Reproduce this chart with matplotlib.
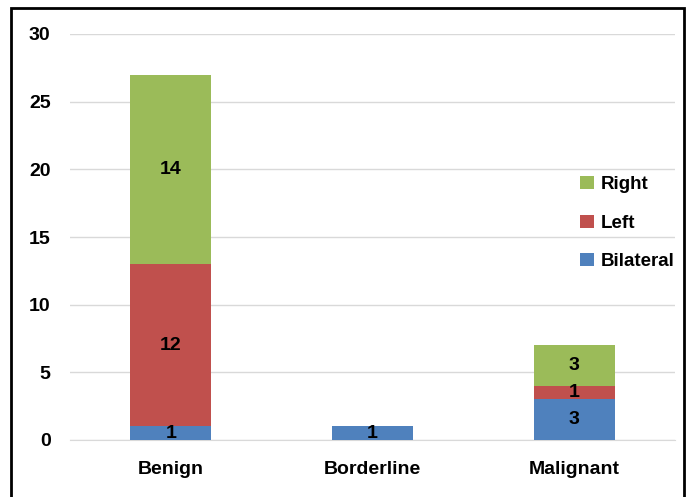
import matplotlib.pyplot as plt
from matplotlib.patches import Rectangle

categories = ["Benign", "Borderline", "Malignant"]
bilateral = [1, 1, 3]
left = [12, 0, 1]
right = [14, 0, 3]
series = [("Bilateral", bilateral, "#4F81BD"),
          ("Left", left, "#C0504D"),
          ("Right", right, "#9BBB59")]
yticks = [0, 5, 10, 15, 20, 25, 30]

plt.rcParams['font.family'] = ['Liberation Sans', 'DejaVu Sans']
plt.rcParams['font.weight'] = 'bold'

fig = plt.figure(figsize=(6.86, 4.97), dpi=100)
W, H = 686, 497
ax = fig.add_axes([70 / W, 1 - 440 / H, (675 - 70) / W, (440 - 34) / H])

x = range(len(categories))
bottom = [0] * len(categories)
handles = []
for name, vals, color in series:
    bars = ax.bar(x, vals, 0.4, bottom=bottom, color=color, label=name, zorder=3)
    handles.append(bars)
    for xi, v, b in zip(x, vals, bottom):
        if v > 0:
            ax.text(xi, b + v / 2, str(v), ha='center', va='center',
                    fontsize=14, fontweight='bold', color='black', zorder=4)
    bottom = [b + v for b, v in zip(bottom, vals)]

ax.set_xlim(-0.5, 2.5)
ax.set_ylim(0, 30)
ax.set_yticks(yticks)
ax.set_xticks(list(x))
ax.set_xticklabels(categories)
ax.yaxis.grid(True, color='#D9D9D9', linewidth=1)
ax.set_axisbelow(True)
for s in ['top', 'right', 'left']:
    ax.spines[s].set_visible(False)
ax.spines['bottom'].set_color('#D9D9D9')
ax.tick_params(axis='both', length=0, labelsize=14)
ax.tick_params(axis='y', pad=14)
ax.tick_params(axis='x', pad=15)
for lbl in ax.get_xticklabels() + ax.get_yticklabels():
    lbl.set_fontweight('bold')

leg = ax.legend(handles[::-1], [s[0] for s in series][::-1],
                loc='upper left', bbox_to_anchor=(0.822, 0.683), frameon=False,
                fontsize=13.5, handlelength=0.7, handleheight=0.7,
                handletextpad=0.4, labelspacing=1.15, borderpad=0.2)

fig.patches.append(Rectangle((11 / W, -0.02), (684 - 11) / W, 1.02 - 8 / H,
                             transform=fig.transFigure, fill=False,
                             edgecolor='black', linewidth=2))

fig.savefig("out.png", dpi=100)
